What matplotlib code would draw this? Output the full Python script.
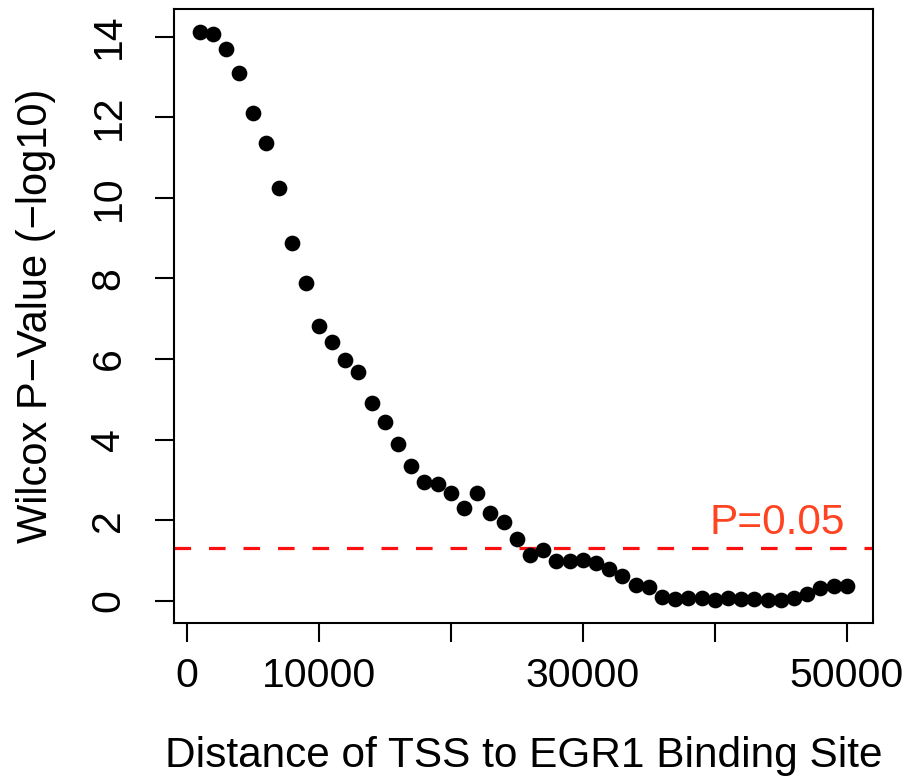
import numpy as np
import matplotlib
matplotlib.use("Agg")
import matplotlib.pyplot as plt

# distance bins (bp) and wilcox p-values (-log10)
distance = [1000, 2000, 3000, 4000, 5000, 6000, 7000, 8000, 9000, 10000,
            11000, 12000, 13000, 14000, 15000, 16000, 17000, 18000, 19000, 20000,
            21000, 22000, 23000, 24000, 25000, 26000, 27000, 28000, 29000, 30000,
            31000, 32000, 33000, 34000, 35000, 36000, 37000, 38000, 39000, 40000,
            41000, 42000, 43000, 44000, 45000, 46000, 47000, 48000, 49000, 50000]
pval = [14.11, 14.07, 13.69, 13.09, 12.11, 11.36, 10.24, 8.88, 7.88, 6.83,
        6.41, 5.98, 5.67, 4.92, 4.43, 3.90, 3.35, 2.94, 2.90, 2.68,
        2.30, 2.68, 2.18, 1.96, 1.54, 1.14, 1.27, 1.00, 1.00, 1.01,
        0.93, 0.78, 0.62, 0.40, 0.35, 0.10, 0.05, 0.06, 0.08, 0.03,
        0.08, 0.05, 0.05, 0.03, 0.01, 0.06, 0.18, 0.32, 0.36, 0.38]
cutoff = -np.log10(0.05)

xticks = [0, 10000, 20000, 30000, 40000, 50000]
xtick_labels = ['0', '10000', '', '30000', '', '50000']
yticks = [0, 2, 4, 6, 8, 10, 12, 14]

plt.rcParams['font.family'] = ['Liberation Sans', 'DejaVu Sans']

fig = plt.figure(figsize=(9.11, 7.80), dpi=100)
ax = fig.add_axes([0.191, 0.201, 0.767, 0.787])

ax.plot(distance, pval, 'o', color='black', markersize=10.3, zorder=3)
ax.axhline(cutoff, color='#ff1010', lw=2.3, linestyle=(0, (5.2, 5.6)), zorder=2)
ax.text(44750, 1.66, 'P=0.05', color='#ff4422', fontsize=30.5,
        ha='center', va='baseline')

# R style axis limits (4% padding)
xr = max(distance) - min(distance)
yr = max(pval) - min(pval)
ax.set_xlim(min(distance) - 0.04 * xr, max(distance) + 0.04 * xr)
ax.set_ylim(min(pval) - 0.04 * yr, max(pval) + 0.04 * yr)

ax.set_xticks(xticks)
ax.set_xticklabels(xtick_labels)
ax.set_yticks(yticks)
ax.set_yticklabels([str(v) for v in yticks], rotation=90, va='center')
ax.tick_params(axis='both', direction='out', length=13.5, width=1.5,
               labelsize=29.5, color='black')
ax.tick_params(axis='x', pad=11)
ax.tick_params(axis='y', pad=20)

for sp in ax.spines.values():
    sp.set_linewidth(1.5)

ax.set_xlabel('Distance of TSS to EGR1 Binding Site', fontsize=30.5, labelpad=29)
ax.set_ylabel('Wilcox P\u2212Value (\u2212log10)', fontsize=30, va='center')
ax.yaxis.set_label_coords(-0.197, 0.5)

fig.savefig('out.png', dpi=100)
